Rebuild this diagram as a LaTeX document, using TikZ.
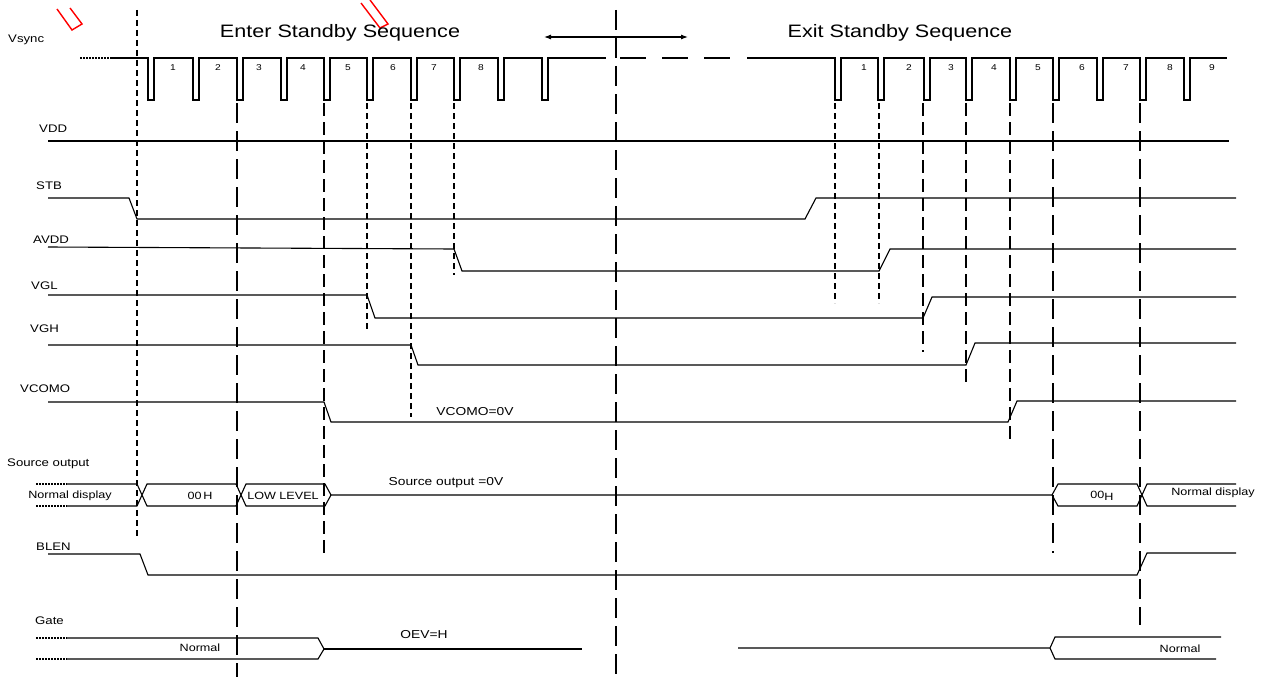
\documentclass[tikz,border=0pt]{standalone}
\usepackage{xcolor}
\usepackage{fontspec}
\setmainfont{Liberation Sans}[FakeStretch=1.2]
\usetikzlibrary{arrows, arrows.meta}

\begin{document}
\begin{tikzpicture}[x=1pt, y=-1pt]
\tikzstyle{sig} = [line width=1.1pt]
\tikzstyle{stub} = [line width=1.6pt, dash pattern=on 2pt off 1pt]
\tikzstyle{guide} = [line width=1.5pt, dash pattern=on 6pt off 4pt]
\tikzstyle{guidemid} = [line width=1.5pt, dash pattern=on 13pt off 6pt]
\tikzstyle{guidelong} = [line width=1.6pt, dash pattern=on 20pt off 8pt]
\tikzstyle{lbl} = [anchor=west, inner sep=0pt, font=\fontsize{11}{11}\selectfont]
\tikzstyle{txt} = [inner sep=0pt, font=\fontsize{10.5}{10.5}\selectfont]
\tikzstyle{note} = [inner sep=0pt, font=\fontsize{11.5}{11.5}\selectfont]
\tikzstyle{num} = [inner sep=0pt, font=\fontsize{8.5}{8.5}\selectfont]
\tikzstyle{title} = [inner sep=0pt, font=\fontsize{18}{18}\selectfont]

\useasboundingbox (0,0) rectangle (1268,677);

% red marks
\draw[red, line width=1.4pt] (57,9) -- (72,30) -- (82,24) -- (70,8);
\draw[red, line width=1.4pt] (361,3) -- (380,28) -- (388,24) -- (370,0);

% titles
\node[title] (enter) at (340,33) {Enter Standby Sequence};
\node[title] (exit) at (900,33) {Exit Standby Sequence};
\coordinate (arrL) at (544,37);
\coordinate (arrR) at (688,37);
\draw[{Latex[length=7pt,width=5pt]}-{Latex[length=7pt,width=5pt]}, line width=1.1pt] (arrL) -- (arrR);

% signal names
\node[lbl] (vsync) at (8,40) {Vsync};
\node[lbl] (vdd) at (39,129) {VDD};
\node[lbl] (stb) at (36,186) {STB};
\node[lbl] (avdd) at (33,240) {AVDD};
\node[lbl] (vgl) at (31,286) {VGL};
\node[lbl] (vgh) at (30,329) {VGH};
\node[lbl] (vcomo) at (20,389) {VCOMO};
\node[lbl] (src) at (7,464) {Source output};
\node[lbl] (blen) at (36,547) {BLEN};
\node[lbl] (gate) at (35,621) {Gate};

% Vsync
\draw[stub] (80,58) -- (110,58);
\draw[sig] (110,58) foreach \p in {148,193,237,281,324,367,411,454,498,542} {
  -- (\p,58) -- (\p,100) -- (\p+6,100) -- (\p+6,58)} -- (606,58);
\draw[sig, dash pattern=on 26pt off 16pt] (620,58) -- (735,58);
\draw[sig] (747,58) foreach \p in {835,878,924,966,1010,1053,1097,1140,1184} {
  -- (\p,58) -- (\p,100) -- (\p+6,100) -- (\p+6,58)} -- (1227,58);
\foreach \x/\n in {173/1,218/2,259/3,303/4,348/5,393/6,434/7,481/8}
  \node[num] (enum\n) at (\x,68) {\n};
\foreach \x/\n in {864/1,909/2,951/3,994/4,1038/5,1082/6,1126/7,1170/8,1212/9}
  \node[num] (xnum\n) at (\x,68) {\n};

% supplies
\draw[sig] (48,141) -- (1229,141);
\draw[sig] (48,198) -- (129,198) -- (137,219) -- (805,219) -- (816,198) -- (1236,198);
\draw[sig] (48,247) -- (454,249) -- (462,271) -- (879,271) -- (890,249) -- (1236,249);
\draw[sig] (48,295) -- (367,295) -- (375,318) -- (923,318) -- (932,297) -- (1236,297);
\draw[sig] (48,345) -- (411,345) -- (418,365) -- (966,365) -- (975,343) -- (1236,343);
\draw[sig] (48,402) -- (324,402) -- (331,422) -- (1008,422) -- (1017,401) -- (1236,401);
\node[note] (vcom0) at (475,412) {VCOMO=0V};

% source output
\draw[stub] (36,484) -- (67,484);
\draw[stub] (36,506) -- (67,506);
\draw[sig] (67,484) -- (137,484) -- (147,506) -- (236,506) -- (241,495) -- (236,484) -- (147,484) -- (137,506) -- (67,506);
\draw[sig] (241,495) -- (246,484) -- (325,484) -- (331,495) -- (325,506) -- (246,506) -- cycle;
\draw[sig] (331,495) -- (1052,495) -- (1058,484) -- (1137,484) -- (1147,506) -- (1236,506);
\draw[sig] (1052,495) -- (1058,506) -- (1137,506) -- (1147,484) -- (1236,484);
\node[txt] (nd1) at (70,496) {Normal display};
\node[txt] (zero1) at (200,496) {00\,H};
\node[txt] (low) at (283,496) {LOW LEVEL};
\node[note] (src0) at (446,483) {Source output =0V};
\node[txt] (zero2) at (1102,496) {00\raisebox{-1.5pt}{H}};
\node[txt] (nd2) at (1213,493) {Normal display};

% BLEN
\draw[sig] (48,554) -- (140,554) -- (148,575) -- (1137,575) -- (1147,553) -- (1236,553);

% Gate
\draw[stub] (36,638) -- (67,638);
\draw[stub] (36,659) -- (67,659);
\draw[sig] (67,638) -- (318,638) -- (324,649) -- (318,659) -- (67,659);
\draw[sig] (324,649) -- (582,649);
\draw[sig] (738,648) -- (1050,648) -- (1055,637) -- (1221,637);
\draw[sig] (1050,648) -- (1055,659) -- (1216,659);
\node[txt] (norm1) at (200,648) {Normal};
\node[note] (oev) at (424,635) {OEV=H};
\node[txt] (norm2) at (1180,649) {Normal};

% guide lines
\draw[guide] (137,10) -- (137,537);
\draw[guidelong] (616,10) -- (616,677);
\foreach \x/\y/\s in {237/677/guidelong, 324/553/guidemid, 367/330/guide, 411/417/guide,
  454/275/guide, 835/303/guide, 879/303/guide, 923/352/guidemid, 966/387/guidemid,
  1010/442/guidemid, 1053/553/guidelong, 1140/625/guidelong}
  \draw[\s] (\x,103) -- (\x,\y);
\end{tikzpicture}
\end{document}
